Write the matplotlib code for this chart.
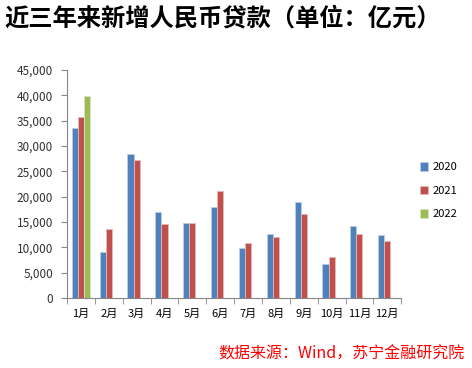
import numpy as np
import matplotlib.pyplot as plt
from matplotlib.ticker import FuncFormatter

plt.rcParams['font.family'] = ['Noto Sans CJK SC', 'DejaVu Sans']

# ========== DATA ========== #
months = ["1月", "2月", "3月", "4月", "5月", "6月", "7月", "8月", "9月", "10月", "11月", "12月"]
years = ["2020", "2021", "2022"]
loans_2020 = [33500, 9100, 28500, 17000, 14800, 18000, 9800, 12600, 18900, 6800, 14300, 12500]
loans_2021 = [35700, 13600, 27200, 14600, 14900, 21200, 10800, 12100, 16600, 8200, 12700, 11200]
loans_2022 = [39800]
colors = ["#4F81BD", "#C0504D", "#9BBB59"]
edges = ["#B9CDE5", "#E6B9B8", "#D7E4BD"]

# ========== PLOT ========== #
fig = plt.figure(figsize=(4.72, 3.68), dpi=100)
ax = fig.add_axes([0.142, 0.190, 0.708, 0.620])

x = np.arange(len(months))
w = 0.22
series = [loans_2020, loans_2021, loans_2022]
for k, vals in enumerate(series):
    xs = x[:len(vals)] + (k - 1) * w
    ax.bar(xs, vals, width=w, color=colors[k], edgecolor=edges[k],
           linewidth=0.6, label=years[k], zorder=2)

ax.set_xlim(-0.5, len(months) - 0.5)
ax.set_ylim(0, 45000)
ax.set_yticks(range(0, 45001, 5000))
ax.yaxis.set_major_formatter(FuncFormatter(lambda v, p: f"{int(v):,}"))

# tick labels at centres, tick marks on category boundaries
ax.set_xticks(x)
ax.set_xticklabels(months, fontsize=8)
ax.set_xticks(np.arange(-0.5, len(months)), minor=True)
ax.tick_params(axis='x', which='major', length=0, pad=8)
ax.tick_params(axis='x', which='minor', length=4, color="#868686", direction='out')
ax.tick_params(axis='y', length=4, color="#868686", labelsize=8.5, pad=6,
               labelcolor="#333333")

for s in ["top", "right"]:
    ax.spines[s].set_visible(False)
for s in ["left", "bottom"]:
    ax.spines[s].set_color("#868686")
    ax.spines[s].set_linewidth(0.8)

ax.legend(loc='center left', bbox_to_anchor=(1.025, 0.47), frameon=False,
          fontsize=8, handlelength=0.8, handleheight=0.8,
          handletextpad=0.4, labelspacing=1.2)

fig.text(0.01, 0.95, "近三年来新增人民币贷款（单位：亿元）", fontsize=17.5,
         fontweight='bold', ha='left', va='center')
fig.text(0.985, 0.038, "数据来源：Wind，苏宁金融研究院", fontsize=11.5,
         color='red', style='italic', ha='right', va='center')

plt.savefig("out.png", dpi=100)
